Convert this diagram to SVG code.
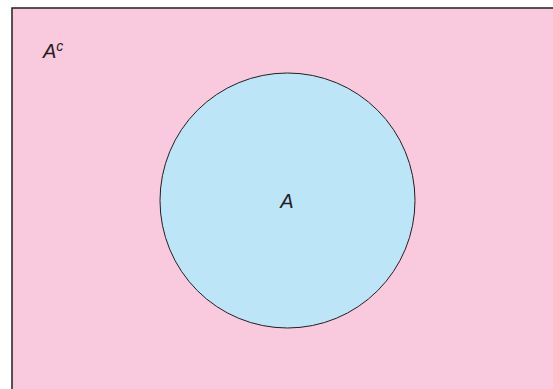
<svg xmlns="http://www.w3.org/2000/svg" width="553" height="389" viewBox="0 0 553 389">
<style>
.lbl{font-family:"Liberation Sans",Arial,sans-serif;font-style:italic;font-size:20px;fill:#231f20}
</style>
<rect width="553" height="389" fill="#ffffff"/>
<g id="universe">
<rect x="12" y="8" width="560" height="400" fill="#f9c9de" stroke="#231f20" stroke-width="1.5"/>
<text class="lbl" x="43" y="57.5">A<tspan font-size="14" dy="-7">c</tspan></text>
</g>
<g id="setA">
<circle cx="287.5" cy="200.5" r="127.5" fill="#bde5f8" stroke="#231f20" stroke-width="1"/>
<text class="lbl" x="287" y="208" text-anchor="middle">A</text>
</g>
</svg>
